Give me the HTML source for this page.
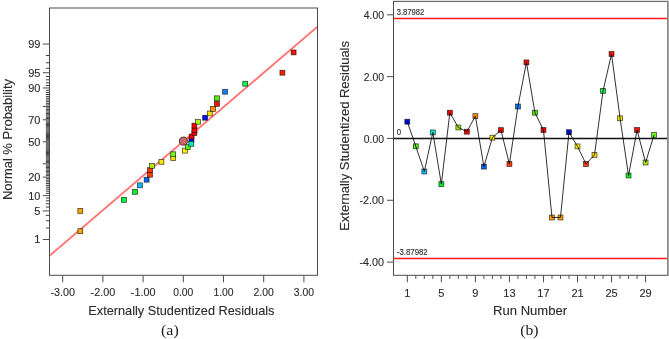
<!DOCTYPE html>
<html><head><meta charset="utf-8"><title>Residual plots</title>
<style>
html,body{margin:0;padding:0;background:#fff;}
body{width:669px;height:339px;overflow:hidden;}
svg{display:block;}
.t{font-family:"Liberation Sans",Arial,sans-serif;fill:#2c2c2c;stroke:#2c2c2c;stroke-width:0.12px;}
.s{font-family:"Liberation Serif","Times New Roman",serif;fill:#222;}
</style></head><body>
<svg width="669" height="339" viewBox="0 0 669 339">
<rect width="669" height="339" fill="#fff"/>
<g stroke="#3c3c3c" stroke-width="1">
<line x1="45.9" x2="49.5" y1="228.06" y2="228.06"/><line x1="45.9" x2="49.5" y1="220.79" y2="220.79"/><line x1="45.9" x2="49.5" y1="215.33" y2="215.33"/><line x1="45.9" x2="49.5" y1="207.10" y2="207.10"/><line x1="45.9" x2="49.5" y1="203.78" y2="203.78"/><line x1="45.9" x2="49.5" y1="200.81" y2="200.81"/><line x1="45.9" x2="49.5" y1="198.11" y2="198.11"/><line x1="45.9" x2="49.5" y1="193.31" y2="193.31"/><line x1="45.9" x2="49.5" y1="191.15" y2="191.15"/><line x1="45.9" x2="49.5" y1="189.11" y2="189.11"/><line x1="45.9" x2="49.5" y1="187.17" y2="187.17"/><line x1="45.9" x2="49.5" y1="185.33" y2="185.33"/><line x1="45.9" x2="49.5" y1="183.57" y2="183.57"/><line x1="45.9" x2="49.5" y1="181.87" y2="181.87"/><line x1="45.9" x2="49.5" y1="180.25" y2="180.25"/><line x1="45.9" x2="49.5" y1="178.67" y2="178.67"/><line x1="45.9" x2="49.5" y1="175.67" y2="175.67"/><line x1="45.9" x2="49.5" y1="174.23" y2="174.23"/><line x1="45.9" x2="49.5" y1="172.83" y2="172.83"/><line x1="45.9" x2="49.5" y1="171.46" y2="171.46"/><line x1="45.9" x2="49.5" y1="170.13" y2="170.13"/><line x1="45.9" x2="49.5" y1="168.82" y2="168.82"/><line x1="45.9" x2="49.5" y1="167.54" y2="167.54"/><line x1="45.9" x2="49.5" y1="166.28" y2="166.28"/><line x1="45.9" x2="49.5" y1="165.04" y2="165.04"/><line x1="45.9" x2="49.5" y1="162.63" y2="162.63"/><line x1="45.9" x2="49.5" y1="161.44" y2="161.44"/><line x1="45.9" x2="49.5" y1="160.28" y2="160.28"/><line x1="45.9" x2="49.5" y1="159.12" y2="159.12"/><line x1="45.9" x2="49.5" y1="157.98" y2="157.98"/><line x1="45.9" x2="49.5" y1="156.86" y2="156.86"/><line x1="45.9" x2="49.5" y1="155.74" y2="155.74"/><line x1="45.9" x2="49.5" y1="154.63" y2="154.63"/><line x1="45.9" x2="49.5" y1="153.53" y2="153.53"/><line x1="45.9" x2="49.5" y1="152.44" y2="152.44"/><line x1="45.9" x2="49.5" y1="151.36" y2="151.36"/><line x1="45.9" x2="49.5" y1="150.28" y2="150.28"/><line x1="45.9" x2="49.5" y1="149.21" y2="149.21"/><line x1="45.9" x2="49.5" y1="148.14" y2="148.14"/><line x1="45.9" x2="49.5" y1="147.08" y2="147.08"/><line x1="45.9" x2="49.5" y1="146.02" y2="146.02"/><line x1="45.9" x2="49.5" y1="144.96" y2="144.96"/><line x1="45.9" x2="49.5" y1="143.91" y2="143.91"/><line x1="45.9" x2="49.5" y1="142.85" y2="142.85"/><line x1="45.9" x2="49.5" y1="140.75" y2="140.75"/><line x1="45.9" x2="49.5" y1="139.69" y2="139.69"/><line x1="45.9" x2="49.5" y1="138.64" y2="138.64"/><line x1="45.9" x2="49.5" y1="137.58" y2="137.58"/><line x1="45.9" x2="49.5" y1="136.52" y2="136.52"/><line x1="45.9" x2="49.5" y1="135.46" y2="135.46"/><line x1="45.9" x2="49.5" y1="134.39" y2="134.39"/><line x1="45.9" x2="49.5" y1="133.32" y2="133.32"/><line x1="45.9" x2="49.5" y1="132.24" y2="132.24"/><line x1="45.9" x2="49.5" y1="131.16" y2="131.16"/><line x1="45.9" x2="49.5" y1="130.07" y2="130.07"/><line x1="45.9" x2="49.5" y1="128.97" y2="128.97"/><line x1="45.9" x2="49.5" y1="127.86" y2="127.86"/><line x1="45.9" x2="49.5" y1="126.74" y2="126.74"/><line x1="45.9" x2="49.5" y1="125.62" y2="125.62"/><line x1="45.9" x2="49.5" y1="124.48" y2="124.48"/><line x1="45.9" x2="49.5" y1="123.32" y2="123.32"/><line x1="45.9" x2="49.5" y1="122.16" y2="122.16"/><line x1="45.9" x2="49.5" y1="120.97" y2="120.97"/><line x1="45.9" x2="49.5" y1="118.56" y2="118.56"/><line x1="45.9" x2="49.5" y1="117.32" y2="117.32"/><line x1="45.9" x2="49.5" y1="116.06" y2="116.06"/><line x1="45.9" x2="49.5" y1="114.78" y2="114.78"/><line x1="45.9" x2="49.5" y1="113.47" y2="113.47"/><line x1="45.9" x2="49.5" y1="112.14" y2="112.14"/><line x1="45.9" x2="49.5" y1="110.77" y2="110.77"/><line x1="45.9" x2="49.5" y1="109.37" y2="109.37"/><line x1="45.9" x2="49.5" y1="107.93" y2="107.93"/><line x1="45.9" x2="49.5" y1="104.93" y2="104.93"/><line x1="45.9" x2="49.5" y1="103.35" y2="103.35"/><line x1="45.9" x2="49.5" y1="101.73" y2="101.73"/><line x1="45.9" x2="49.5" y1="100.03" y2="100.03"/><line x1="45.9" x2="49.5" y1="98.27" y2="98.27"/><line x1="45.9" x2="49.5" y1="96.43" y2="96.43"/><line x1="45.9" x2="49.5" y1="94.49" y2="94.49"/><line x1="45.9" x2="49.5" y1="92.45" y2="92.45"/><line x1="45.9" x2="49.5" y1="90.29" y2="90.29"/><line x1="45.9" x2="49.5" y1="85.49" y2="85.49"/><line x1="45.9" x2="49.5" y1="82.79" y2="82.79"/><line x1="45.9" x2="49.5" y1="79.82" y2="79.82"/><line x1="45.9" x2="49.5" y1="76.50" y2="76.50"/><line x1="45.9" x2="49.5" y1="68.27" y2="68.27"/><line x1="45.9" x2="49.5" y1="62.81" y2="62.81"/><line x1="45.9" x2="49.5" y1="55.54" y2="55.54"/></g>
<g stroke="#4c4c4c" stroke-width="1">
<line x1="42.8" x2="49.5" y1="239.51" y2="239.51"/><line x1="42.8" x2="49.5" y1="210.88" y2="210.88"/><line x1="42.8" x2="49.5" y1="195.63" y2="195.63"/><line x1="42.8" x2="49.5" y1="177.15" y2="177.15"/><line x1="42.8" x2="49.5" y1="163.82" y2="163.82"/><line x1="42.8" x2="49.5" y1="141.80" y2="141.80"/><line x1="42.8" x2="49.5" y1="119.78" y2="119.78"/><line x1="42.8" x2="49.5" y1="106.45" y2="106.45"/><line x1="42.8" x2="49.5" y1="87.97" y2="87.97"/><line x1="42.8" x2="49.5" y1="72.72" y2="72.72"/><line x1="42.8" x2="49.5" y1="44.09" y2="44.09"/><line x1="62.70" x2="62.70" y1="275.3" y2="282.3"/><line x1="102.90" x2="102.90" y1="275.3" y2="282.3"/><line x1="143.10" x2="143.10" y1="275.3" y2="282.3"/><line x1="183.30" x2="183.30" y1="275.3" y2="282.3"/><line x1="223.50" x2="223.50" y1="275.3" y2="282.3"/><line x1="263.70" x2="263.70" y1="275.3" y2="282.3"/><line x1="303.90" x2="303.90" y1="275.3" y2="282.3"/></g>
<g class="t" font-size="11">
<text x="40.4" y="243.46" text-anchor="end">1</text><text x="40.4" y="214.83" text-anchor="end">5</text><text x="40.4" y="199.58" text-anchor="end">10</text><text x="40.4" y="181.10" text-anchor="end">20</text><text x="40.4" y="145.75" text-anchor="end">50</text><text x="40.4" y="123.73" text-anchor="end">70</text><text x="40.4" y="91.92" text-anchor="end">90</text><text x="40.4" y="76.67" text-anchor="end">95</text><text x="40.4" y="48.04" text-anchor="end">99</text><text x="62.70" y="296.3" text-anchor="middle" textLength="24.6" lengthAdjust="spacingAndGlyphs">-3.00</text><text x="102.90" y="296.3" text-anchor="middle" textLength="24.6" lengthAdjust="spacingAndGlyphs">-2.00</text><text x="143.10" y="296.3" text-anchor="middle" textLength="24.6" lengthAdjust="spacingAndGlyphs">-1.00</text><text x="183.30" y="296.3" text-anchor="middle" textLength="20.2" lengthAdjust="spacingAndGlyphs">0.00</text><text x="223.50" y="296.3" text-anchor="middle" textLength="20.2" lengthAdjust="spacingAndGlyphs">1.00</text><text x="263.70" y="296.3" text-anchor="middle" textLength="20.2" lengthAdjust="spacingAndGlyphs">2.00</text><text x="303.90" y="296.3" text-anchor="middle" textLength="20.2" lengthAdjust="spacingAndGlyphs">3.00</text></g>
<text class="t" font-size="12.8" x="181.4" y="314.6" text-anchor="middle" textLength="186.2" lengthAdjust="spacingAndGlyphs">Externally Studentized Residuals</text>
<text class="t" font-size="12.5" transform="translate(11.6,139.5) rotate(-90)" text-anchor="middle" textLength="121" lengthAdjust="spacingAndGlyphs">Normal % Probability</text>
<text class="s" font-size="14.8" x="169.85" y="334.8" text-anchor="middle" textLength="17.7" lengthAdjust="spacingAndGlyphs">(a)</text>
<clipPath id="cl"><rect x="49.5" y="8.0" width="268.0" height="267.3"/></clipPath>
<line x1="49.5" y1="255.8" x2="317.5" y2="26.6" stroke="#ff7676" stroke-width="1.9" clip-path="url(#cl)"/>
<rect x="49.5" y="8.0" width="268.0" height="267.3" fill="none" stroke="#4c4c4c" stroke-width="1"/>
<g stroke="#000" stroke-opacity="0.72" stroke-width="0.75">
<rect x="77.85" y="228.73" width="4.9" height="4.9" fill="#ffa500"/><rect x="77.85" y="208.43" width="4.9" height="4.9" fill="#ffa500"/><rect x="121.45" y="197.44" width="4.9" height="4.9" fill="#00f038"/><rect x="132.55" y="189.41" width="4.9" height="4.9" fill="#10f028"/><rect x="137.55" y="182.88" width="4.9" height="4.9" fill="#10b8ff"/><rect x="144.15" y="177.26" width="4.9" height="4.9" fill="#0068f8"/><rect x="147.55" y="172.26" width="4.9" height="4.9" fill="#ff3800"/><rect x="147.55" y="167.68" width="4.9" height="4.9" fill="#ff3800"/><rect x="149.55" y="163.41" width="4.9" height="4.9" fill="#a0f010"/><rect x="158.95" y="159.39" width="4.9" height="4.9" fill="#f4e400"/><rect x="170.75" y="155.53" width="4.9" height="4.9" fill="#f4e400"/><rect x="170.75" y="151.81" width="4.9" height="4.9" fill="#70f818"/><rect x="182.45" y="148.19" width="4.9" height="4.9" fill="#fff000"/><rect x="185.35" y="144.63" width="4.9" height="4.9" fill="#58f010"/><rect x="188.95" y="137.59" width="4.9" height="4.9" fill="#0010e0"/><rect x="188.85" y="141.35" width="4.9" height="4.9" fill="#00ecc8"/><rect x="189.15" y="134.07" width="4.9" height="4.9" fill="#ff0000"/><rect x="191.95" y="130.51" width="4.9" height="4.9" fill="#ff0000"/><rect x="191.95" y="127.85" width="4.9" height="4.9" fill="#ff0000"/><rect x="191.95" y="123.17" width="4.9" height="4.9" fill="#ff0000"/><rect x="195.55" y="119.31" width="4.9" height="4.9" fill="#b0f010"/><rect x="202.65" y="115.29" width="4.9" height="4.9" fill="#0010f0"/><rect x="207.35" y="111.02" width="4.9" height="4.9" fill="#ffe000"/><rect x="210.55" y="106.44" width="4.9" height="4.9" fill="#ff9000"/><rect x="214.55" y="101.44" width="4.9" height="4.9" fill="#ff1000"/><rect x="214.55" y="95.82" width="4.9" height="4.9" fill="#50f008"/><rect x="222.65" y="89.29" width="4.9" height="4.9" fill="#1080ff"/><rect x="242.75" y="81.26" width="4.9" height="4.9" fill="#10f848"/><rect x="279.95" y="70.27" width="4.9" height="4.9" fill="#ff2000"/><rect x="291.15" y="49.97" width="4.9" height="4.9" fill="#ff1000"/></g>
<circle cx="183.4" cy="141.1" r="4.05" fill="#c96868" stroke="#4a2020" stroke-width="0.9"/>
<g stroke="#4c4c4c" stroke-width="1">
<line x1="387.0" x2="393.5" y1="14.81" y2="14.81"/><line x1="387.0" x2="393.5" y1="76.63" y2="76.63"/><line x1="387.0" x2="393.5" y1="138.45" y2="138.45"/><line x1="387.0" x2="393.5" y1="200.27" y2="200.27"/><line x1="387.0" x2="393.5" y1="262.09" y2="262.09"/><line x1="407.30" x2="407.30" y1="275.3" y2="282.3"/><line x1="415.81" x2="415.81" y1="275.3" y2="278.9"/><line x1="424.32" x2="424.32" y1="275.3" y2="278.9"/><line x1="432.83" x2="432.83" y1="275.3" y2="278.9"/><line x1="441.34" x2="441.34" y1="275.3" y2="282.3"/><line x1="449.85" x2="449.85" y1="275.3" y2="278.9"/><line x1="458.36" x2="458.36" y1="275.3" y2="278.9"/><line x1="466.87" x2="466.87" y1="275.3" y2="278.9"/><line x1="475.38" x2="475.38" y1="275.3" y2="282.3"/><line x1="483.89" x2="483.89" y1="275.3" y2="278.9"/><line x1="492.40" x2="492.40" y1="275.3" y2="278.9"/><line x1="500.91" x2="500.91" y1="275.3" y2="278.9"/><line x1="509.42" x2="509.42" y1="275.3" y2="282.3"/><line x1="517.93" x2="517.93" y1="275.3" y2="278.9"/><line x1="526.44" x2="526.44" y1="275.3" y2="278.9"/><line x1="534.95" x2="534.95" y1="275.3" y2="278.9"/><line x1="543.46" x2="543.46" y1="275.3" y2="282.3"/><line x1="551.97" x2="551.97" y1="275.3" y2="278.9"/><line x1="560.48" x2="560.48" y1="275.3" y2="278.9"/><line x1="568.99" x2="568.99" y1="275.3" y2="278.9"/><line x1="577.50" x2="577.50" y1="275.3" y2="282.3"/><line x1="586.01" x2="586.01" y1="275.3" y2="278.9"/><line x1="594.52" x2="594.52" y1="275.3" y2="278.9"/><line x1="603.03" x2="603.03" y1="275.3" y2="278.9"/><line x1="611.54" x2="611.54" y1="275.3" y2="282.3"/><line x1="620.05" x2="620.05" y1="275.3" y2="278.9"/><line x1="628.56" x2="628.56" y1="275.3" y2="278.9"/><line x1="637.07" x2="637.07" y1="275.3" y2="278.9"/><line x1="645.58" x2="645.58" y1="275.3" y2="282.3"/></g>
<g class="t" font-size="11">
<text x="384.0" y="18.91" text-anchor="end" textLength="20.2" lengthAdjust="spacingAndGlyphs">4.00</text><text x="384.0" y="80.73" text-anchor="end" textLength="20.2" lengthAdjust="spacingAndGlyphs">2.00</text><text x="384.0" y="142.55" text-anchor="end" textLength="20.2" lengthAdjust="spacingAndGlyphs">0.00</text><text x="384.0" y="204.37" text-anchor="end" textLength="24.6" lengthAdjust="spacingAndGlyphs">-2.00</text><text x="384.0" y="266.19" text-anchor="end" textLength="24.6" lengthAdjust="spacingAndGlyphs">-4.00</text><text x="407.30" y="296.5" text-anchor="middle">1</text><text x="441.34" y="296.5" text-anchor="middle">5</text><text x="475.38" y="296.5" text-anchor="middle">9</text><text x="509.42" y="296.5" text-anchor="middle">13</text><text x="543.46" y="296.5" text-anchor="middle">17</text><text x="577.50" y="296.5" text-anchor="middle">21</text><text x="611.54" y="296.5" text-anchor="middle">25</text><text x="645.58" y="296.5" text-anchor="middle">29</text></g>
<text class="t"  font-size="12.8" x="530.1" y="315.1" text-anchor="middle" textLength="74" lengthAdjust="spacingAndGlyphs">Run Number</text>
<text class="t" font-size="12.5" transform="translate(348.8,135.9) rotate(-90)" text-anchor="middle" textLength="189.8" lengthAdjust="spacingAndGlyphs">Externally Studentized Residuals</text>
<text class="s" font-size="14.8" x="529.4" y="334.8" text-anchor="middle" textLength="18.3" lengthAdjust="spacingAndGlyphs">(b)</text>
<rect x="393.5" y="1.35" width="274.5" height="273.95" fill="none" stroke="#4c4c4c" stroke-width="1"/>
<rect x="667" y="0.8" width="1" height="275" fill="#8c8c8c"/><rect x="668" y="0.8" width="1" height="275" fill="#a2a2a2"/>
<line x1="393.5" x2="667" y1="18.55" y2="18.55" stroke="#ff1a1a" stroke-width="1.55"/><line x1="393.5" x2="667" y1="258.55" y2="258.55" stroke="#ff1a1a" stroke-width="1.55"/><line x1="393.5" x2="667" y1="138.45" y2="138.45" stroke="#111" stroke-width="1.4"/>
<g class="t" font-size="8.6" fill="#222">
<text x="396.7" y="14.9" textLength="27.6" lengthAdjust="spacingAndGlyphs">3.87982</text><text x="396.9" y="254.8" textLength="30.8" lengthAdjust="spacingAndGlyphs">-3.87982</text><text x="396.7" y="135.0" textLength="4.4" lengthAdjust="spacingAndGlyphs">0</text></g>
<g stroke="#000" stroke-opacity="0.72" stroke-width="0.75">
<rect x="404.85" y="119.25" width="4.9" height="4.9" fill="#0010e0"/><rect x="413.36" y="143.85" width="4.9" height="4.9" fill="#58f010"/><rect x="421.87" y="169.05" width="4.9" height="4.9" fill="#10b8ff"/><rect x="430.38" y="129.95" width="4.9" height="4.9" fill="#00ecc8"/><rect x="438.89" y="181.65" width="4.9" height="4.9" fill="#00f038"/><rect x="447.40" y="110.25" width="4.9" height="4.9" fill="#ff0000"/><rect x="455.91" y="125.05" width="4.9" height="4.9" fill="#a0f010"/><rect x="464.42" y="129.25" width="4.9" height="4.9" fill="#ff0000"/><rect x="472.93" y="113.65" width="4.9" height="4.9" fill="#ff9000"/><rect x="481.44" y="164.15" width="4.9" height="4.9" fill="#0068f8"/><rect x="489.95" y="135.25" width="4.9" height="4.9" fill="#f4e400"/><rect x="498.46" y="127.65" width="4.9" height="4.9" fill="#ff0000"/><rect x="506.97" y="161.45" width="4.9" height="4.9" fill="#ff3800"/><rect x="515.48" y="104.05" width="4.9" height="4.9" fill="#1080ff"/><rect x="523.99" y="59.95" width="4.9" height="4.9" fill="#ff1000"/><rect x="532.50" y="110.25" width="4.9" height="4.9" fill="#50f008"/><rect x="541.01" y="127.55" width="4.9" height="4.9" fill="#ff0000"/><rect x="549.52" y="215.05" width="4.9" height="4.9" fill="#ffa500"/><rect x="558.03" y="215.05" width="4.9" height="4.9" fill="#ffa500"/><rect x="566.54" y="129.75" width="4.9" height="4.9" fill="#0010f0"/><rect x="575.05" y="143.95" width="4.9" height="4.9" fill="#fff000"/><rect x="583.56" y="161.55" width="4.9" height="4.9" fill="#ff3800"/><rect x="592.07" y="152.45" width="4.9" height="4.9" fill="#ffe000"/><rect x="600.58" y="88.45" width="4.9" height="4.9" fill="#10f848"/><rect x="609.09" y="51.55" width="4.9" height="4.9" fill="#ff1000"/><rect x="617.60" y="115.85" width="4.9" height="4.9" fill="#f4e400"/><rect x="626.11" y="173.05" width="4.9" height="4.9" fill="#10f028"/><rect x="634.62" y="127.55" width="4.9" height="4.9" fill="#ff1000"/><rect x="643.13" y="160.05" width="4.9" height="4.9" fill="#b0f010"/><rect x="651.64" y="132.45" width="4.9" height="4.9" fill="#70f818"/></g>
<polyline points="407.30,121.70 415.81,146.30 424.32,171.50 432.83,132.40 441.34,184.10 449.85,112.70 458.36,127.50 466.87,131.70 475.38,116.10 483.89,166.60 492.40,137.70 500.91,130.10 509.42,163.90 517.93,106.50 526.44,62.40 534.95,112.70 543.46,130.00 551.97,217.50 560.48,217.50 568.99,132.20 577.50,146.40 586.01,164.00 594.52,154.90 603.03,90.90 611.54,54.00 620.05,118.30 628.56,175.50 637.07,130.00 645.58,162.50 654.09,134.90" fill="none" stroke="#000" stroke-opacity="0.9" stroke-width="0.9" stroke-linejoin="round"/>
</svg>
</body></html>
